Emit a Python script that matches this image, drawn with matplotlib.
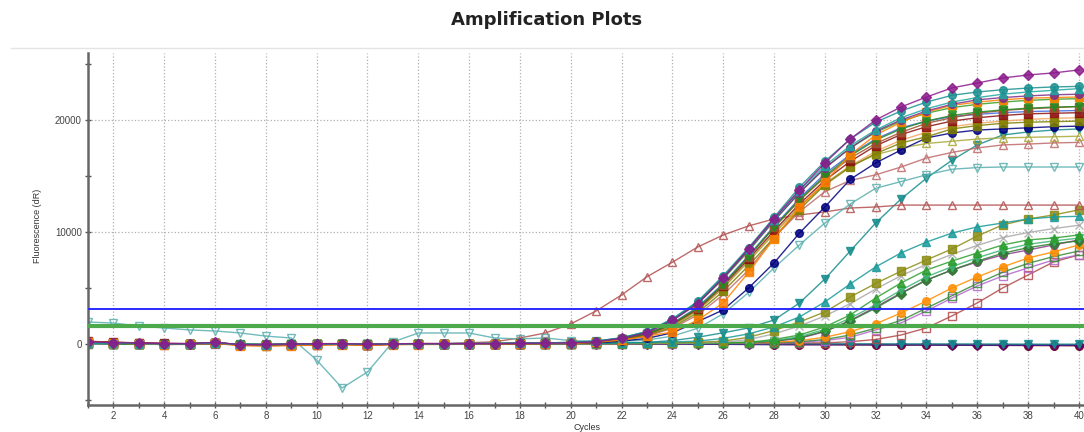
# Amplification plot (qPCR), fluorescence (dR) per cycle for each well

import numpy as np
import matplotlib.pyplot as plt
from matplotlib.lines import Line2D
from matplotlib.ticker import MultipleLocator

plt.rcParams['font.family'] = ['Liberation Sans', 'DejaVu Sans']

cycles = list(range(1, 41))

# thresholds
threshold_blue = 3100
threshold_green = 1600

# main cluster of wells
purple_diamond = [200, 120, 80, 40, 20, 150, -60, -40, 0, 20, 40, -30, 10, 30, 20, 40, 30, 50, 80,
                  100, 200, 500, 1000, 2100, 3600, 5900, 8500, 11200, 13750, 16160, 18300, 20000,
                  21160, 22050, 22860, 23300, 23750, 24020, 24200, 24470]
teal_circle = [100, 60, 40, 0, 10, 80, -20, -60, -20, 0, 20, -40, 0, 10, 30, 30, 40, 60, 90,
               150, 250, 550, 1100, 2200, 3800, 6100, 8600, 11300, 14000, 16300, 18300, 19800,
               20800, 21600, 22200, 22500, 22700, 22850, 22950, 23000]
orange_square = [150, 100, 0, -50, -30, 50, -150, -200, -150, -100, -80, -120, -60, -50, -40, -20, 0, 10, 30,
                 50, 150, 350, 700, 1070, 2140, 3660, 6400, 9400, 12200, 14460, 16900, 18660,
                 19800, 20700, 21300, 21600, 21800, 21950, 22000, 22050]
green_tri_down = [80, 40, 20, 0, 10, 100, -50, -80, -40, -20, 0, -30, 0, 20, 10, 30, 30, 50, 70,
                  100, 200, 450, 900, 1800, 3200, 5300, 7800, 10400, 12900, 15000, 16800, 18200,
                  19200, 19900, 20400, 20700, 20900, 21050, 21150, 21200]
maroon_square = [250, 150, 100, 50, 30, 130, -100, -120, -80, -60, -30, -80, -20, 0, 10, 20, 30, 40, 60,
                 80, 180, 400, 850, 1750, 3100, 5200, 7600, 10100, 12500, 14600, 16300, 17700,
                 18700, 19400, 19900, 20200, 20400, 20550, 20600, 20650]
green_circle = [60, 30, 10, -20, 0, 90, -40, -70, -30, -10, 10, -50, -10, 10, 20, 20, 40, 60, 90,
                120, 230, 520, 1050, 2100, 3600, 5800, 8300, 11000, 13500, 15700, 17500, 18900,
                19900, 20600, 21100, 21400, 21600, 21750, 21850, 21900]
navy_circle = [120, 60, 30, 0, -10, 60, -80, -90, -60, -40, -20, -60, -30, -10, 0, 0, 10, 20, 30,
               50, 100, 250, 500, 1000, 2000, 3040, 5000, 7230, 9900, 12230, 14700, 16160,
               17320, 18400, 18840, 19100, 19200, 19300, 19400, 19450]
olive_square = [90, 50, 20, 0, 0, 70, -60, -80, -50, -30, -10, -50, -20, 0, 10, 20, 20, 40, 50,
                60, 150, 350, 750, 1500, 2800, 4700, 7000, 9500, 12000, 14200, 15800, 17000,
                17950, 18500, 19200, 19500, 19700, 19800, 19850, 19900]
rose_tri_open = [180, 100, 60, 20, 0, 100, -80, -100, -60, -40, -20, -60, -20, 0, 10, 20, 30, 40, 50,
                 60, 140, 330, 700, 1400, 2600, 4400, 6600, 9500, 11800, 13600, 14600, 15100,
                 15800, 16600, 17100, 17500, 17770, 17850, 17950, 18000]
khaki_tri_open = [70, 40, 20, 0, 10, 80, -40, -60, -30, -10, 10, -40, 0, 10, 20, 30, 30, 50, 60,
                  70, 160, 380, 800, 1600, 3000, 5000, 7400, 9900, 12300, 14300, 15900, 16900,
                  17500, 17900, 18100, 18300, 18400, 18450, 18500, 18550]
brown_square = [200, 130, 70, 30, 20, 120, -70, -90, -50, -30, -10, -60, -10, 10, 20, 30, 30, 50, 70,
                90, 190, 430, 880, 1800, 3200, 5300, 7800, 10400, 12800, 14900, 16600, 17900,
                18900, 19700, 20200, 20600, 20850, 21000, 21100, 21200]
teal_tri_up = [110, 70, 40, 10, 20, 90, -30, -50, -20, 0, 20, -30, 10, 20, 30, 40, 50, 70, 100,
               130, 260, 560, 1120, 2250, 3800, 6000, 8500, 11100, 13700, 15900, 17700, 19100,
               20200, 21000, 21600, 22000, 22300, 22500, 22650, 22800]
magenta_circle = [140, 90, 50, 20, 10, 110, -50, -70, -40, -20, 0, -40, 0, 20, 20, 30, 40, 60, 80,
                  110, 230, 520, 1050, 2150, 3700, 5900, 8400, 11000, 13500, 15700, 17500, 19000,
                  20000, 20800, 21400, 21800, 22000, 22150, 22250, 22300]
tan_circle = [160, 100, 40, 0, -20, 80, -120, -140, -100, -70, -40, -90, -40, -20, 0, 10, 20, 30, 50,
              70, 150, 380, 800, 1650, 3000, 5000, 7400, 9800, 12200, 14300, 15900, 17200,
              18200, 18900, 19400, 19700, 19900, 20050, 20150, 20200]
blue_diamond = [50, 20, 0, -30, -20, 60, -60, -80, -50, -30, -10, -50, -20, 0, 10, 10, 20, 40, 60,
                90, 200, 450, 920, 1850, 3300, 5400, 7900, 10500, 13000, 15200, 16900, 18300,
                19300, 19900, 20300, 20500, 20650, 20750, 20800, 20850]

# odd wells: drifting baseline and early riser
lightteal_tri_open = [1960, 1870, 1600, 1430, 1250, 1160, 980, 700, 535, -1430, -3930, -2500, 180, 980,
                      980, 980, 535, 450, 535, 300, 250, 250, 350, 700, 1400, 2700, 4600, 6790,
                      8840, 10800, 12500, 13900, 14500, 15100, 15600, 15750, 15800, 15800, 15800, 15800]
rose_tri_early = [100, 50, 0, -50, 0, 50, -100, -150, -100, -50, 0, -100, 0, 50, 50, 100, 200, 535,
                  980, 1790, 2950, 4375, 6000, 7300, 8660, 9730, 10540, 11160, 11520, 11790, 12140,
                  12230, 12400, 12400, 12400, 12400, 12400, 12400, 12400, 12400]

# late wells
teal_tri_down_late = [50, 20, 0, -20, -10, 40, -50, -60, -40, -20, 0, -30, 0, 10, 10, 20, 20, 30, 30,
                      40, 60, 100, 150, 300, 600, 1000, 1430, 2140, 3660, 5800, 8300, 10800,
                      12950, 14800, 16400, 17770, 18660, 18930, 19100, 19200]
teal_tri_up_late = [80, 40, 10, -10, 0, 60, -40, -50, -30, -10, 10, -20, 10, 20, 20, 30, 30, 40, 40,
                    50, 60, 80, 120, 180, 250, 500, 900, 1520, 2410, 3750, 5360, 6880,
                    8130, 9100, 9900, 10450, 10800, 11160, 11340, 11400]
olive_square_late = [60, 30, 0, -20, -10, 50, -60, -70, -50, -30, -10, -40, -10, 0, 10, 10, 20, 30, 30,
                     40, 50, 60, 80, 100, 150, 250, 600, 1200, 1960, 2860, 4200, 5400,
                     6500, 7500, 8480, 9640, 10630, 11160, 11520, 11970]
gray_x = [40, 20, 0, -20, -20, 40, -60, -80, -50, -30, -10, -40, -10, 0, 0, 10, 10, 20, 20,
          30, 40, 50, 60, 80, 100, 150, 400, 900, 1600, 2500, 3600, 4900,
          6100, 7100, 8000, 8800, 9500, 9950, 10300, 10600]
green_tri_late = [70, 40, 10, -10, 0, 60, -40, -60, -40, -20, 0, -30, 0, 10, 10, 20, 20, 30, 40,
                  40, 50, 60, 70, 80, 90, 100, 150, 400, 800, 1520, 2590, 4100,
                  5450, 6600, 7400, 8130, 8840, 9290, 9460, 9730]
seagreen_tri_down = [30, 10, -10, -30, -20, 40, -70, -90, -60, -40, -20, -50, -20, -10, 0, 0, 10, 20, 20,
                     30, 30, 40, 50, 60, 70, 90, 120, 300, 650, 1300, 2300, 3500,
                     4800, 6000, 6900, 7700, 8400, 8900, 9200, 9450]
darkgreen_diamond = [90, 50, 20, 0, 10, 70, -30, -50, -30, -10, 10, -30, 0, 10, 20, 20, 30, 40, 50,
                     50, 60, 70, 80, 90, 100, 120, 150, 250, 550, 1150, 2050, 3200,
                     4500, 5700, 6600, 7400, 8100, 8600, 8950, 9200]
plum_circle = [100, 60, 30, 0, 10, 80, -50, -70, -40, -20, 0, -40, -10, 10, 10, 20, 30, 40, 50,
               50, 60, 60, 70, 80, 90, 100, 100, 250, 500, 1100, 2100, 3300,
               4550, 5710, 6600, 7320, 7950, 8390, 8840, 9290]
orange_dot = [60, 30, 0, -30, -20, 40, -90, -110, -80, -60, -40, -70, -40, -20, -10, 0, 0, 10, 20,
              20, 30, 30, 40, 50, 60, 70, 90, 150, 300, 600, 1100, 1790,
              2770, 3840, 5000, 5980, 6880, 7680, 8220, 8840]
violet_square_open = [20, 0, -20, -40, -30, 30, -60, -80, -60, -40, -20, -50, -20, -10, 0, 0, 10, 10, 20,
                      20, 30, 30, 40, 40, 50, 60, 70, 90, 150, 300, 600, 1250,
                      1880, 2950, 4100, 5180, 6070, 6790, 7500, 7950]
green_square_open = [40, 20, 0, -20, -10, 50, -50, -70, -50, -30, -10, -40, -10, 0, 10, 10, 20, 20, 30,
                     30, 40, 40, 50, 60, 70, 80, 100, 120, 200, 400, 800, 1400,
                     2100, 3200, 4300, 5400, 6400, 7200, 7800, 8300]
rose_square_open = [130, 80, 40, 10, 0, 90, -60, -90, -60, -40, -20, -50, -20, 0, 0, 10, 20, 30, 30,
                    40, 40, 50, 50, 60, 60, 70, 80, 80, 90, 100, 200, 400,
                    800, 1430, 2500, 3660, 5000, 6160, 7320, 7950]

# no amplification (negative controls)
maroon_flat = [220, 150, 90, 40, 30, 120, -80, -110, -70, -50, -30, -70, -30, -10, 0, 10, 20, 30, 30,
               20, 10, 0, -10, -20, -20, -30, -40, -50, -60, -70, -80, -90,
               -100, -100, -110, -120, -130, -140, -150, -160]
navy_flat = [150, 90, 50, 20, 10, 90, -60, -80, -50, -30, -10, -50, -20, 0, 10, 10, 20, 20, 20,
             10, 0, -10, -10, -20, -30, -30, -40, -50, -60, -60, -70, -80,
             -80, -90, -100, -100, -110, -120, -120, -130]
purple_flat = [60, 30, 0, -20, -10, 60, -50, -70, -40, -20, 0, -30, 0, 10, 10, 20, 20, 30, 30,
               30, 20, 20, 10, 10, 0, 0, -10, -10, -20, -20, -30, -30,
               -40, -40, -50, -50, -60, -60, -70, -70]
teal_flat = [90, 60, 30, 10, 20, 80, -20, -40, -10, 0, 20, -20, 10, 20, 20, 30, 30, 40, 40,
             40, 40, 40, 30, 30, 30, 30, 20, 20, 20, 10, 10, 10,
             0, 0, 0, -10, -10, -20, -20, -20]

# (values, colour, marker, filled) -- drawn in this order
wells = [
    (maroon_flat, '#800000', 'o', True),
    (navy_flat, '#2b2bb0', '.', True),
    (purple_flat, '#660066', 'D', True),
    (teal_flat, '#138f8f', 'v', True),
    (rose_square_open, '#b04a4a', 's', False),
    (violet_square_open, '#b366cc', 's', False),
    (green_square_open, '#3a8a3a', 's', False),
    (orange_dot, '#ff8c00', 'o', True),
    (plum_circle, '#8e3a8e', 'o', True),
    (darkgreen_diamond, '#2f7f2f', 'D', True),
    (seagreen_tri_down, '#3cb371', 'v', True),
    (green_tri_late, '#2e9e2e', '^', True),
    (gray_x, '#a9a9a9', 'x', True),
    (olive_square_late, '#8c8c14', 's', True),
    (teal_tri_up_late, '#1a9a9a', '^', True),
    (teal_tri_down_late, '#168c8c', 'v', True),
    (rose_tri_early, '#b35050', '^', False),
    (lightteal_tri_open, '#5aafaf', 'v', False),
    (blue_diamond, '#4169e1', 'd', True),
    (tan_circle, '#f4a460', 'o', True),
    (rose_tri_open, '#c06a6a', '^', False),
    (khaki_tri_open, '#a8a838', '^', False),
    (navy_circle, '#00007f', 'o', True),
    (olive_square, '#7f7f00', 's', True),
    (maroon_square, '#8b1010', 's', True),
    (brown_square, '#a0522d', 's', True),
    (green_tri_down, '#228b22', 'v', True),
    (green_circle, '#3a9d23', 'o', True),
    (orange_square, '#ff8000', 's', True),
    (magenta_circle, '#7b2d8b', 'o', True),
    (teal_tri_up, '#20a8a0', '^', True),
    (teal_circle, '#1b8f8f', 'o', True),
    (purple_diamond, '#8b1a8b', 'D', True),
]

fig = plt.figure(figsize=(10.84, 4.32), dpi=100)
ax = fig.add_axes([88 / 1084, 27 / 432, 996 / 1084, 352 / 432])

for values, color, marker, filled in wells:
    ms = 4.6 if marker in ('D', 'd') else 5.5
    ax.plot(cycles, values, '-', color=color, lw=1.0, alpha=0.85,
            marker=marker, ms=ms, mew=1.0, mec=color,
            mfc=color if filled else 'none', zorder=2)

# threshold lines
ax.axhline(threshold_green, color='#4caa4c', lw=3, zorder=4)
ax.axhline(threshold_blue, color='#2a2aff', lw=1.4, zorder=4)

ax.set_xlim(1, 40.2)
ax.set_ylim(-5450, 25980)

ax.xaxis.set_major_locator(MultipleLocator(2))
ax.xaxis.set_minor_locator(MultipleLocator(1))
ax.yaxis.set_major_locator(MultipleLocator(10000))
ax.yaxis.set_minor_locator(MultipleLocator(5000))

ax.grid(True, which='major', color='#b0b0b0', linestyle=':', lw=0.9)
ax.tick_params(which='both', direction='inout', length=5, width=1, color='#555555',
               labelsize=7, labelcolor='#444444', pad=2)

for side in ('top', 'right'):
    ax.spines[side].set_visible(False)
for side in ('left', 'bottom'):
    ax.spines[side].set_color('#666666')
    ax.spines[side].set_linewidth(1.8)

# title, separator and axis titles
fig.text(547 / 1084, 1 - 20 / 432, 'Amplification Plots', ha='center', va='center',
         fontsize=13, fontweight='bold', color='#222222', family='DejaVu Sans')
fig.add_artist(Line2D([0.01, 1.0], [1 - 48 / 432, 1 - 48 / 432], color='#e4e4e4', lw=1))
fig.text(38 / 1084, 1 - 226 / 432, 'Fluorescence (dR)', rotation=90, ha='center', va='center',
         fontsize=6.5, color='#333333')
fig.text(587 / 1084, 1 - 428 / 432, 'Cycles', ha='center', va='center', fontsize=6.5, color='#333333')

fig.savefig('out.png', dpi=100)
